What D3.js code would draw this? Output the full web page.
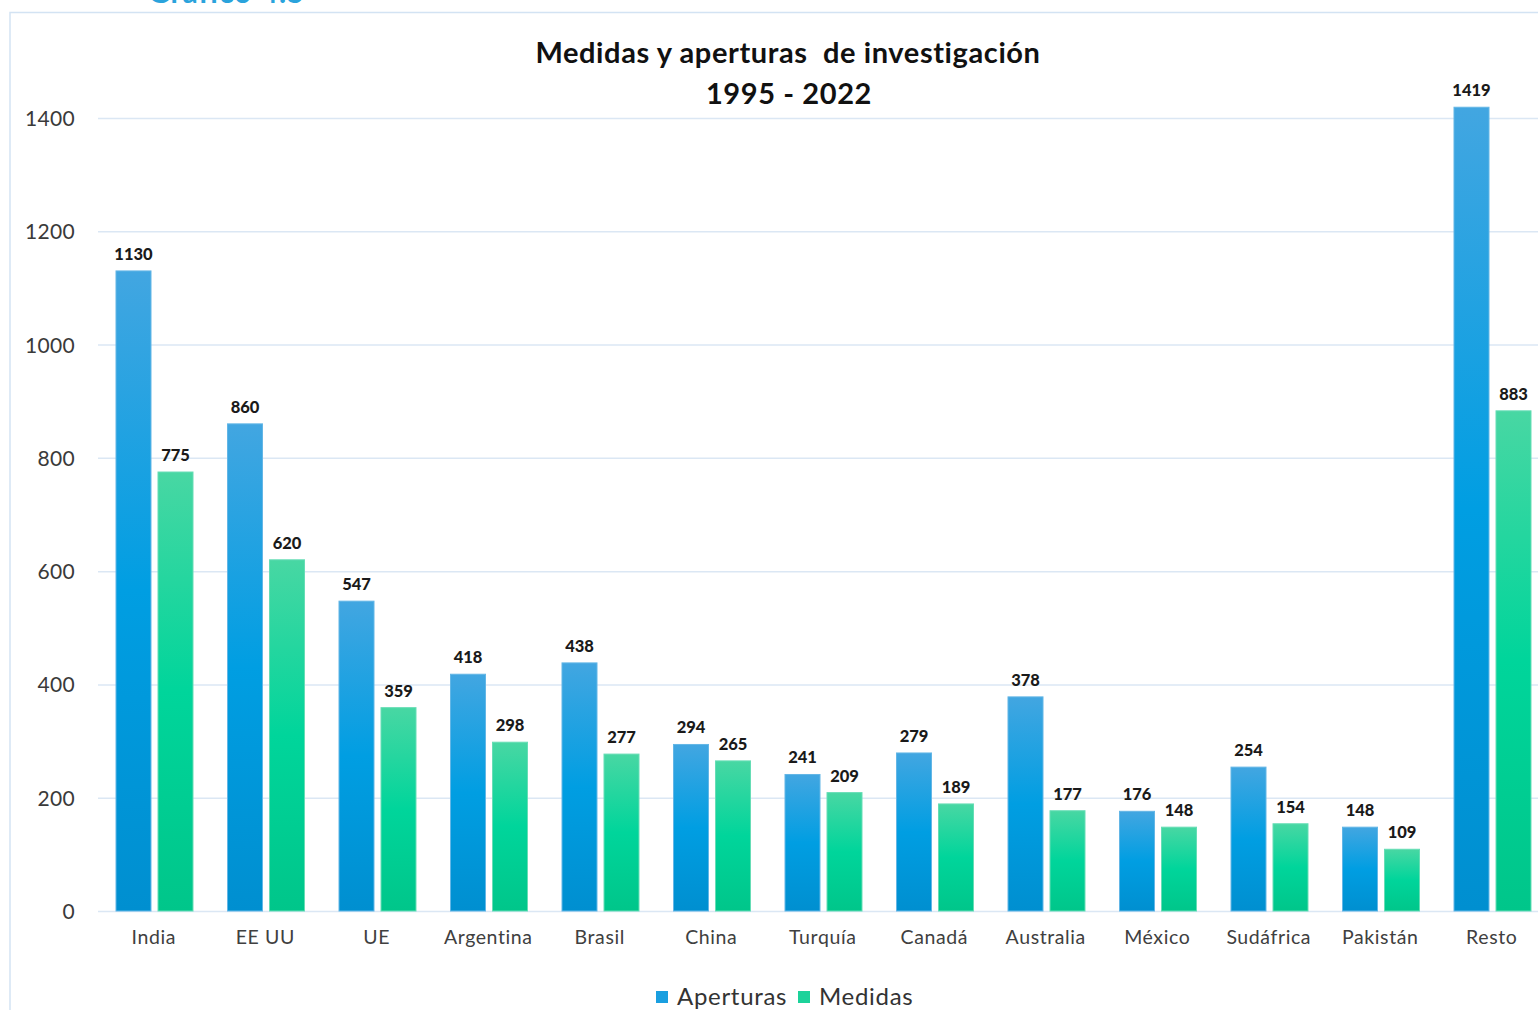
<!DOCTYPE html>
<html><head><meta charset="utf-8">
<script src="https://cdn.jsdelivr.net/npm/d3@7"></script>
<style>html,body{margin:0;padding:0;background:#fff;overflow:hidden}</style>
</head><body><svg id="c" width="1538" height="1010"></svg>
<script>
const categories = ["India","EE UU","UE","Argentina","Brasil","China","Turquía","Canadá","Australia","México","Sudáfrica","Pakistán","Resto"];
const aperturas = [1130,860,547,418,438,294,241,279,378,176,254,148,1419];
const medidas   = [775,620,359,298,277,265,209,189,177,148,154,109,883];
const seriesNames = ["Aperturas","Medidas"];
const yTicks = [0,200,400,600,800,1000,1200,1400];

const svg = d3.select("#c");
const FONT = "Lato, 'Open Sans', sans-serif";

// frame
svg.append("rect").attr("x",10).attr("y",12.5).attr("width",1540).attr("height",1010)
  .attr("fill","none").attr("stroke","#d3e3f3").attr("stroke-width",1.5);
// upper caption (clipped by the page edge as in the reference)
svg.append("text").attr("x",148).attr("y",3).attr("font-family",FONT).attr("font-weight",700)
  .attr("font-size",30).attr("letter-spacing",1).attr("fill","#2aa3dc").text("Gráfico 4.5");

const defs = svg.append("defs");
const gb = defs.append("linearGradient").attr("id","gBlue").attr("x1",0).attr("y1",0).attr("x2",0).attr("y2",1);
gb.append("stop").attr("offset","0%").attr("stop-color","#42a6e1");
gb.append("stop").attr("offset","50%").attr("stop-color","#009ee2");
gb.append("stop").attr("offset","100%").attr("stop-color","#008fd0");
const gg = defs.append("linearGradient").attr("id","gGreen").attr("x1",0).attr("y1",0).attr("x2",0).attr("y2",1);
gg.append("stop").attr("offset","0%").attr("stop-color","#48d7a3");
gg.append("stop").attr("offset","50%").attr("stop-color","#00d59b");
gg.append("stop").attr("offset","100%").attr("stop-color","#00c68a");

const y = d3.scaleLinear().domain([0,1400]).range([911,118]);
const x0 = d3.scaleBand().domain(categories).range([98,98+13*111.5]);
const x1 = d3.scaleBand().domain(seriesNames).range([18,95]).paddingInner(1/6);

// gridlines
const yAxis = d3.axisLeft(y).tickValues(yTicks).tickSize(-(1538-98)).tickPadding(23).tickFormat(d3.format("d"));
const ga = svg.append("g").attr("transform","translate(98,0)").call(yAxis);
ga.select(".domain").remove();
ga.selectAll(".tick line").attr("stroke","#dbe7f4").attr("stroke-width",1.5);
ga.selectAll(".tick text").attr("font-family",FONT).attr("font-size",21).attr("letter-spacing",0.3).attr("fill","#3a3a3a").attr("dy","0.36em");

// x axis labels
const xAxis = d3.axisBottom(x0).tickSize(0).tickPadding(19);
const gx = svg.append("g").attr("transform","translate(0,911)").call(xAxis);
gx.select(".domain").remove();
gx.selectAll(".tick text").attr("font-family",FONT).attr("font-size",19.5).attr("letter-spacing",0.6).attr("fill","#404040");

const data = categories.map((c,i)=>({cat:c, vals:[{s:"Aperturas",v:aperturas[i]},{s:"Medidas",v:medidas[i]}]}));
const fills = {Aperturas:"url(#gBlue)", Medidas:"url(#gGreen)"};
const strokes = {Aperturas:"#63b6e6", Medidas:"#66ddb5"};
const grp = svg.append("g").selectAll("g").data(data).join("g")
  .attr("transform",d=>`translate(${x0(d.cat)},0)`);
grp.selectAll("rect").data(d=>d.vals).join("rect")
  .attr("x",d=>x1(d.s)).attr("width",x1.bandwidth())
  .attr("y",d=>y(d.v)).attr("height",d=>y(0)-y(d.v))
  .attr("fill",d=>fills[d.s]).attr("stroke",d=>strokes[d.s]).attr("stroke-width",1);
grp.selectAll("text").data(d=>d.vals).join("text")
  .attr("x",d=>x1(d.s)+x1.bandwidth()/2).attr("y",d=>y(d.v)-11)
  .attr("text-anchor","middle").attr("font-family",FONT).attr("font-weight",900)
  .attr("font-size",16.5).attr("fill","#1a1a1a").text(d=>d.v);

// title
svg.append("text").attr("x",788).attr("y",63).attr("text-anchor","middle").attr("font-family",FONT)
  .attr("font-weight",700).attr("font-size",29).attr("letter-spacing",0.6).attr("fill","#111").attr("xml:space","preserve")
  .text("Medidas y aperturas  de investigación");
svg.append("text").attr("x",789).attr("y",104).attr("text-anchor","middle").attr("font-family",FONT)
  .attr("font-weight",700).attr("font-size",29).attr("letter-spacing",0.6).attr("fill","#111").text("1995 - 2022");

// legend
const legend = [{s:"Aperturas",x:656,c:"#1a9fe0"},{s:"Medidas",x:798,c:"#1cd29a"}];
const lg = svg.append("g");
legend.forEach(l=>{
  lg.append("rect").attr("x",l.x).attr("y",991).attr("width",12).attr("height",12).attr("fill",l.c);
  lg.append("text").attr("x",l.x+21).attr("y",1005).attr("font-family",FONT).attr("font-size",24)
    .attr("letter-spacing",0.7).attr("fill","#333").text(l.s);
});
</script></body></html>
